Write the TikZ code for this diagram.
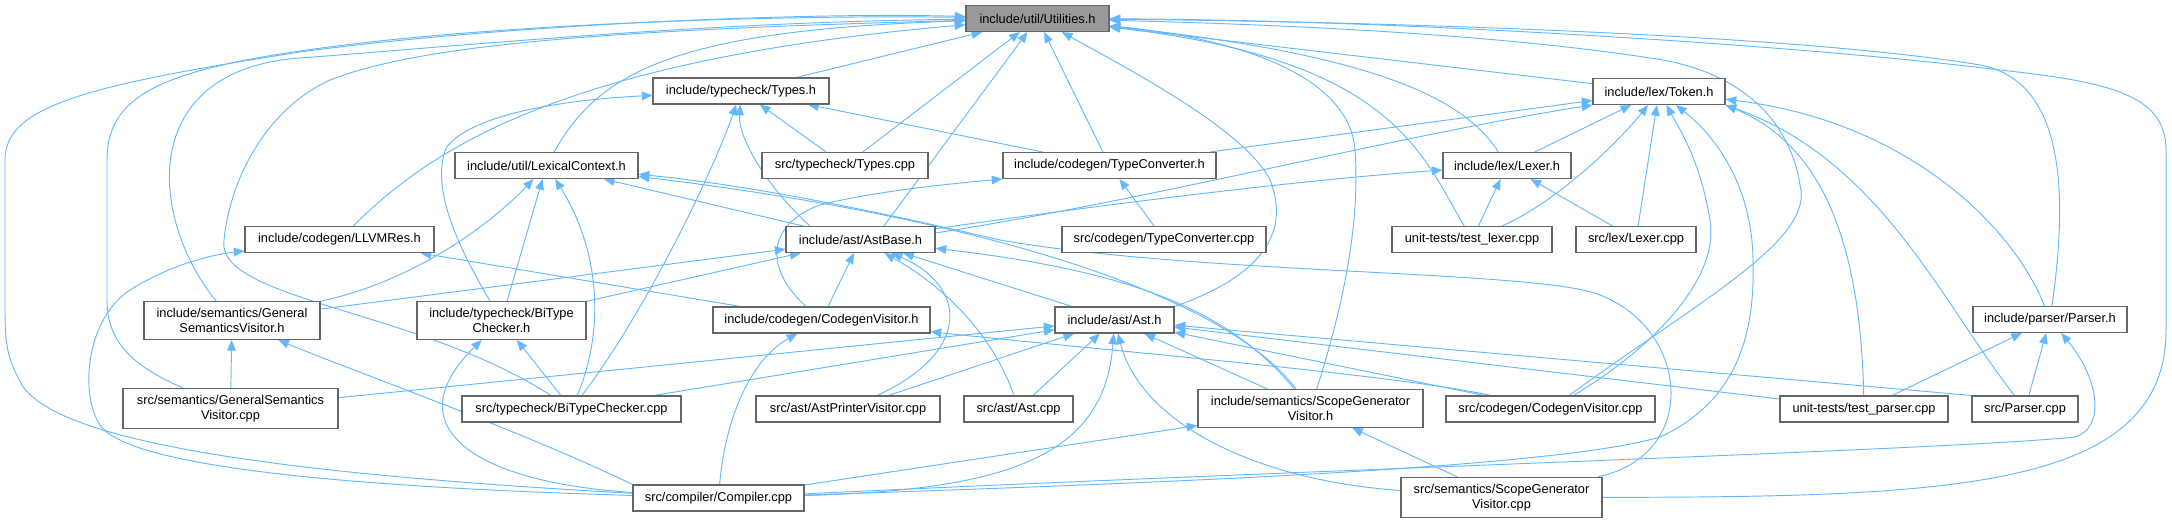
\documentclass[tikz,border=0pt]{standalone}
\usepackage{fontspec}
\setmainfont{Liberation Sans}
\usetikzlibrary{arrows.meta, backgrounds}
\definecolor{inclblue}{HTML}{63B8FF}
\definecolor{boxgray}{HTML}{666666}
\definecolor{mainfill}{HTML}{999999}

\begin{document}
\begin{tikzpicture}[x=0.75pt, y=-0.75pt, font=\fontsize{9.6}{11.25}\selectfont,
    filebox/.style={draw=boxgray, line width=0.8pt, fill=white, align=center,
        inner xsep=2pt, inner ysep=5pt, minimum height=19.5pt},
    mainbox/.style={filebox, fill=mainfill},
    incl/.style={draw=inclblue, line width=0.7pt, -{Triangle[length=8pt, width=6.5pt]}}]
    \useasboundingbox (0,0) rectangle (2172,523);
    % Header yang dilacak
    \node[mainbox, minimum width=143*0.75pt] (util) at (1037.5,18.5) {include/util/Utilities.h};
    % File lain: {name}{x}{y}{lebar}{label}
    \foreach \nm/\cx/\cy/\bw/\lbl in {
        types/741/91/176/{include/typecheck/Types.h},
        token/1659/91.5/132/{include/lex/Token.h},
        lexctx/546.5/165.5/183/{include/util/LexicalContext.h},
        typescpp/845/165.5/166/{src/typecheck/Types.cpp},
        typeconv/1109.5/165.5/213/{include/codegen/TypeConverter.h},
        lexerh/1507/165.5/128/{include/lex/Lexer.h},
        llvmres/339.5/239.5/189/{include/codegen/LLVMRes.h},
        astbase/860.5/239.5/149/{include/ast/AstBase.h},
        typeconvcpp/1164/239.5/204/{src/codegen/TypeConverter.cpp},
        testlexer/1472/239.5/160/{unit-tests/test\_lexer.cpp},
        lexercpp/1636/239.5/120/{src/lex/Lexer.cpp},
        gensemh/232/320.5/176/{include/semantics/General\\SemanticsVisitor.h},
        bitypeh/501.5/320.5/169/{include/typecheck/BiType\\Checker.h},
        codegenh/821.5/320/217/{include/codegen/CodegenVisitor.h},
        asth/1114.5/320/119/{include/ast/Ast.h},
        parserh/2050/319.5/154/{include/parser/Parser.h},
        gensemcpp/230.5/408.5/215/{src/semantics/GeneralSemantics\\Visitor.cpp},
        bitypecpp/571.5/409/219/{src/typecheck/BiTypeChecker.cpp},
        astprinter/848/409/184/{src/ast/AstPrinterVisitor.cpp},
        astcpp/1018.5/409/109/{src/ast/Ast.cpp},
        scopeh/1310.5/408.5/225/{include/semantics/ScopeGenerator\\Visitor.h},
        codegencpp/1550.5/409/209/{src/codegen/CodegenVisitor.cpp},
        testparser/1864/409/168/{unit-tests/test\_parser.cpp},
        parsercpp/2025/409/106/{src/Parser.cpp},
        compiler/718.5/498/171/{src/compiler/Compiler.cpp},
        scopecpp/1501.5/497.5/201/{src/semantics/ScopeGenerator\\Visitor.cpp}%
    } {
        \node[filebox, minimum width=\bw*0.75pt] (\nm) at (\cx,\cy) {\lbl};
    }
    \begin{scope}[on background layer]
    % Include lurus
    \foreach \src/\dst in {types/util, typescpp/util, typeconv/util, token/util,
        typescpp/types, typeconv/types, typeconv/token, lexerh/token, lexercpp/token,
        astbase/lexctx, bitypeh/lexctx, typeconvcpp/typeconv, testlexer/lexerh,
        lexercpp/lexerh, codegenh/llvmres, gensemcpp/gensemh, bitypecpp/bitypeh,
        gensemh/astbase, bitypeh/astbase, codegenh/astbase, asth/astbase,
        gensemcpp/asth, bitypecpp/asth, astprinter/asth, astcpp/asth, scopeh/asth,
        codegencpp/asth, testparser/asth, testparser/parserh, parsercpp/parserh,
        compiler/scopeh, scopecpp/scopeh} {
        \draw[incl] (\src) -- (\dst);
    }
    \draw[incl] (astbase.30) -- (util);
    \draw[incl] (parsercpp.north west) -- (asth);
    % Include melengkung ke Utilities.h
    \draw[incl] (asth.north east) .. controls (1265,275) and (1290,230) .. (1270,180) .. controls (1245,130) and (1130,70) .. (util);
    \draw[incl] (scopeh) .. controls (1345,300) and (1360,220) .. (1355,150) .. controls (1350,80) and (1250,40) .. (util);
    \draw[incl] (lexerh) .. controls (1465,100) and (1380,55) .. (util);
    \draw[incl] (testlexer) .. controls (1420,150) and (1390,60) .. (util);
    \draw[incl] (parserh) .. controls (2070,180) and (2060,80) .. (1980,65) .. controls (1800,35) and (1400,22) .. (util);
    \draw[incl] (codegencpp) .. controls (1700,300) and (1815,240) .. (1800,185) .. controls (1790,120) and (1740,70) .. (1650,58) .. controls (1500,35) and (1300,25) .. (util);
    \draw[incl] (scopecpp) .. controls (1950,497) and (2166,490) .. (2166,330) -- (2166,150) .. controls (2166,95) and (2110,82) .. (2000,70) .. controls (1800,45) and (1400,20) .. (util);
    \draw[incl] (lexctx) .. controls (600,70) and (680,30) .. (util);
    \draw[incl] (llvmres) .. controls (430,150) and (560,60) .. (util);
    \draw[incl] (gensemh) .. controls (150,220) and (135,70) .. (300,58) .. controls (450,47) and (700,22) .. (util);
    \draw[incl] (gensemcpp) .. controls (130,365) and (107,340) .. (107,300) -- (107,160) .. controls (107,90) and (170,65) .. (370,42) .. controls (550,22) and (800,15) .. (util);
    \draw[incl] (compiler) .. controls (300,475) and (60,445) .. (22,385) .. controls (5,355) and (5,340) .. (5,300) -- (5,160) .. controls (5,105) and (90,85) .. (300,52) .. controls (500,25) and (800,12) .. (util);
    \draw[incl] (bitypecpp) .. controls (420,310) and (215,300) .. (224,240) .. controls (230,180) and (265,110) .. (330,80) .. controls (420,45) and (600,30) .. (util);
    % Types.h dan Token.h
    \draw[incl] (astbase.165) .. controls (770,190) and (738,140) .. (types);
    \draw[incl] (bitypeh) .. controls (460,250) and (430,190) .. (446,148) .. controls (470,115) and (560,100) .. (types);
    \draw[incl] (bitypecpp) .. controls (640,320) and (710,180) .. (types);
    \draw[incl] (astbase.5) .. controls (1150,200) and (1400,135) .. (token.south west);
    \draw[incl] (testlexer) .. controls (1560,200) and (1620,140) .. (token);
    \draw[incl] (codegencpp) .. controls (1650,350) and (1720,280) .. (1710,220) .. controls (1700,160) and (1680,130) .. (token);
    \draw[incl] (compiler) .. controls (1100,485) and (1550,470) .. (1660,437) .. controls (1740,400) and (1755,330) .. (1753,260) .. controls (1752,190) and (1720,140) .. (token);
    \draw[incl] (testparser) .. controls (1860,220) and (1810,140) .. (token.south east);
    \draw[incl] (parsercpp) .. controls (1940,300) and (1880,160) .. (token.south east);
    \draw[incl] (parserh) .. controls (2010,220) and (1900,120) .. (token);
    % LexicalContext.h
    \draw[incl] (gensemh.north east) .. controls (400,285) and (480,235) .. (lexctx);
    \draw[incl] (bitypecpp) .. controls (605,330) and (600,250) .. (lexctx);
    \draw[incl] (scopeh) .. controls (1230,300) and (1000,220) .. (lexctx);
    \draw[incl] (scopecpp) .. controls (1700,455) and (1690,330) .. (1600,295) .. controls (1540,270) and (1200,275) .. (1000,240) .. controls (880,212) and (750,185) .. (lexctx);
    % Header lain
    \draw[incl] (codegenh) .. controls (765,270) and (765,225) .. (820,205) .. controls (880,190) and (960,183) .. (typeconv.south west);
    \draw[incl] (astbase) .. controls (1100,205) and (1300,180) .. (lexerh);
    \draw[incl] (compiler) .. controls (380,488) and (130,470) .. (100,425) .. controls (80,395) and (85,320) .. (130,290) .. controls (170,265) and (210,255) .. (llvmres);
    \draw[incl] (compiler.north west) .. controls (520,430) and (350,370) .. (gensemh);
    \draw[incl] (compiler) .. controls (470,482) and (395,425) .. (bitypeh);
    \draw[incl] (compiler) .. controls (725,420) and (750,360) .. (codegenh);
    \draw[incl] (codegencpp) .. controls (1400,375) and (1100,350) .. (codegenh);
    \draw[incl] (astprinter) .. controls (975,350) and (965,285) .. (astbase);
    \draw[incl] (astcpp) .. controls (995,340) and (950,290) .. (astbase);
    \draw[incl] (scopeh) .. controls (1225,305) and (1120,270) .. (astbase);
    \draw[incl] (compiler) .. controls (1000,490) and (1105,460) .. (asth);
    \draw[incl] (scopecpp) .. controls (1250,480) and (1140,420) .. (asth);
    \draw[incl] (compiler) .. controls (1300,470) and (1950,450) .. (2075,437) .. controls (2105,428) and (2100,380) .. (parserh);
    \end{scope}
\end{tikzpicture}
\end{document}
